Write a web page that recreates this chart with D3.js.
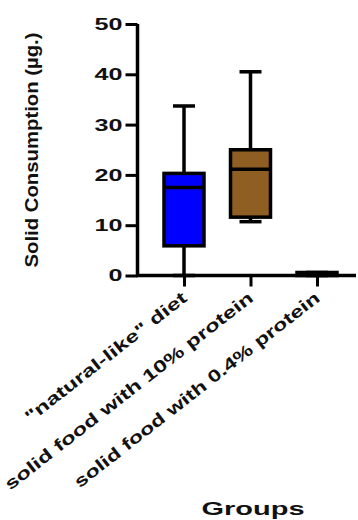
<!DOCTYPE html>
<html>
<head>
<meta charset="utf-8">
<script src="https://cdn.jsdelivr.net/npm/d3@7"></script>
<style>
  body { margin: 0; background: #fff; }
  text { font-family: Arial, "Liberation Sans", sans-serif; font-weight: bold; fill: #111; }
</style>
</head>
<body>
<div id="chart"></div>
<script>
// groups and box stats
var groups = ['"natural-like" diet', "solid food with 10% protein", "solid food with 0.4% protein"];
var mins    = [0, 10.7, 0];
var q1s     = [5.9, 11.6, 0];
var medians = [17.5, 21.1, 0.3];
var q3s     = [20.3, 25.0, 0.6];
var maxs    = [33.7, 40.5, 0.6];
var colors  = ["#0000ff", "#8e5e22", "#ffffff"];
var yTicks  = [0, 10, 20, 30, 40, 50];

var W = 358, H = 520;

var svg = d3.select("#chart").append("svg")
    .attr("width", W)
    .attr("height", H);

var y = d3.scaleLinear().domain([0, 50]).range([275.5, 24]);
var x = d3.scalePoint().domain(groups).range([184, 317]);

var data = groups.map(function (g, i) {
    return { g: g, min: mins[i], q1: q1s[i], med: medians[i], q3: q3s[i], max: maxs[i], c: colors[i] };
});

// y axis
var yAxis = svg.append("g")
    .attr("transform", "translate(137.5,0)")
    .call(d3.axisLeft(y).tickValues(yTicks).tickSize(12).tickPadding(3));
yAxis.select(".domain").attr("stroke", "#000").attr("stroke-width", 3.5)
    .attr("d", "M0," + y(50) + "V" + (y(0) + 1.5));
yAxis.selectAll(".tick line").attr("stroke", "#000").attr("stroke-width", 3);
yAxis.selectAll(".tick text").attr("font-size", 17).attr("fill", "#111")
    .attr("font-family", "Arial, 'Liberation Sans', sans-serif").attr("font-weight", "bold")
    .attr("textLength", function (d) { return d === 0 ? 14 : 28; })
    .attr("lengthAdjust", "spacingAndGlyphs");

// x axis
var xAxis = svg.append("g")
    .attr("transform", "translate(0," + y(0) + ")")
    .call(d3.axisBottom(x).tickSize(11).tickFormat(""));
xAxis.select(".domain").attr("stroke", "#000").attr("stroke-width", 3.5)
    .attr("d", "M136," + 0 + "H356");
xAxis.selectAll(".tick line").attr("stroke", "#000").attr("stroke-width", 3);

// x labels
var labelLen = [200, 310, 306];
svg.append("g").selectAll("text")
    .data(groups)
    .enter().append("text")
    .attr("transform", function (d) { return "translate(" + (x(d) + 4) + ",300) rotate(-38)"; })
    .attr("text-anchor", "end")
    .attr("font-size", 17)
    .attr("textLength", function (d, i) { return labelLen[i]; })
    .attr("lengthAdjust", "spacingAndGlyphs")
    .text(function (d) { return d; });

// boxes
var bw = 40, cw = 22;
var box = svg.append("g").selectAll("g")
    .data(data)
    .enter().append("g");

box.append("line")
    .attr("x1", function (d) { return x(d.g); })
    .attr("x2", function (d) { return x(d.g); })
    .attr("y1", function (d) { return y(d.max); })
    .attr("y2", function (d) { return y(d.min); })
    .attr("stroke", "#000").attr("stroke-width", 3.5);

box.append("line")
    .attr("x1", function (d) { return x(d.g) - cw / 2; })
    .attr("x2", function (d) { return x(d.g) + cw / 2; })
    .attr("y1", function (d) { return y(d.max); })
    .attr("y2", function (d) { return y(d.max); })
    .attr("stroke", "#000").attr("stroke-width", 3.5);

box.append("line")
    .attr("x1", function (d) { return x(d.g) - cw / 2; })
    .attr("x2", function (d) { return x(d.g) + cw / 2; })
    .attr("y1", function (d) { return y(d.min); })
    .attr("y2", function (d) { return y(d.min); })
    .attr("stroke", "#000").attr("stroke-width", 3.5);

box.append("rect")
    .attr("x", function (d) { return x(d.g) - bw / 2; })
    .attr("width", bw)
    .attr("y", function (d) { return y(d.q3); })
    .attr("height", function (d) { return y(d.q1) - y(d.q3); })
    .attr("fill", function (d) { return d.c; })
    .attr("stroke", "#000").attr("stroke-width", 3.5);

box.append("line")
    .attr("x1", function (d) { return x(d.g) - bw / 2; })
    .attr("x2", function (d) { return x(d.g) + bw / 2; })
    .attr("y1", function (d) { return y(d.med); })
    .attr("y2", function (d) { return y(d.med); })
    .attr("stroke", "#000").attr("stroke-width", 3.5);

// axis titles
svg.append("text")
    .attr("transform", "translate(38,150) rotate(-90)")
    .attr("text-anchor", "middle")
    .attr("font-size", 18)
    .attr("textLength", 235)
    .attr("lengthAdjust", "spacingAndGlyphs")
    .text("Solid Consumption (µg.)");

svg.append("text")
    .attr("x", 253)
    .attr("y", 515)
    .attr("text-anchor", "middle")
    .attr("font-size", 19)
    .attr("textLength", 103)
    .attr("lengthAdjust", "spacingAndGlyphs")
    .text("Groups");
</script>
</body>
</html>
